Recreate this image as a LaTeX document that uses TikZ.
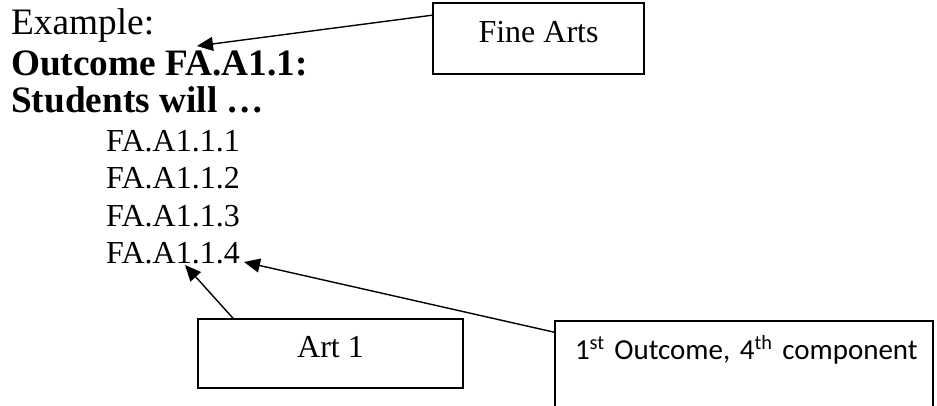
\documentclass[tikz,border=0pt]{standalone}
\usepackage{fontspec}
\setmainfont{Liberation Serif}
\newfontfamily\calibri{Carlito}
\usetikzlibrary{arrows.meta}
\begin{document}
\begin{tikzpicture}[x=1pt,y=-1pt,
  big/.style={inner sep=0pt,anchor=base west,font=\fontsize{37.3}{40}\selectfont},
  bigb/.style={big,font=\fontsize{37.3}{40}\selectfont\bfseries},
  item/.style={inner sep=0pt,anchor=base west,font=\fontsize{32}{36}\selectfont},
  tbox/.style={draw,line width=1.6pt,inner sep=0pt,font=\fontsize{32}{36}\selectfont,text height=21pt},
  arr/.style={line width=1.4pt,-{Triangle[length=16pt,width=14pt]}}]
\useasboundingbox (0,0) rectangle (937,406);
\node[big]  (ex) at (11,35)  {Example:};
\node[bigb] (oc) at (11,76)  {Outcome FA.A1.1:};
\node[bigb] (st) at (11,113) {Students will …};
\node[item] (i1) at (106,152) {FA.A1.1.1};
\node[item] (i2) at (106,189) {FA.A1.1.2};
\node[item] (i3) at (106,226) {FA.A1.1.3};
\node[item] (i4) at (106,263) {FA.A1.1.4};
\node[tbox,minimum width=211pt,minimum height=71pt,text depth=12pt] (fa) at (538.5,38.5) {Fine Arts};
\node[tbox,minimum width=265pt,minimum height=69pt,text depth=14pt] (art) at (330.5,353.5) {Art 1};
\node[tbox,minimum width=378pt,minimum height=110pt,inner xsep=20pt,text width=338pt,align=left,text depth=55pt,font=\fontsize{29}{33}\selectfont\calibri] (ob) at (744,376) {\mbox{1\textsuperscript{st} Outcome, 4\textsuperscript{th} component}};
\coordinate (t1) at (197,46);
\coordinate (t2) at (185,265);
\coordinate (t3) at (244,262);
\draw[arr] ([yshift=-13pt]fa.north west) -- (t1);
\draw[arr] ([xshift=-97.5pt]art.north) -- (t2);
\draw[arr] ([yshift=-12pt]ob.north west) -- (t3);
\end{tikzpicture}
\end{document}
